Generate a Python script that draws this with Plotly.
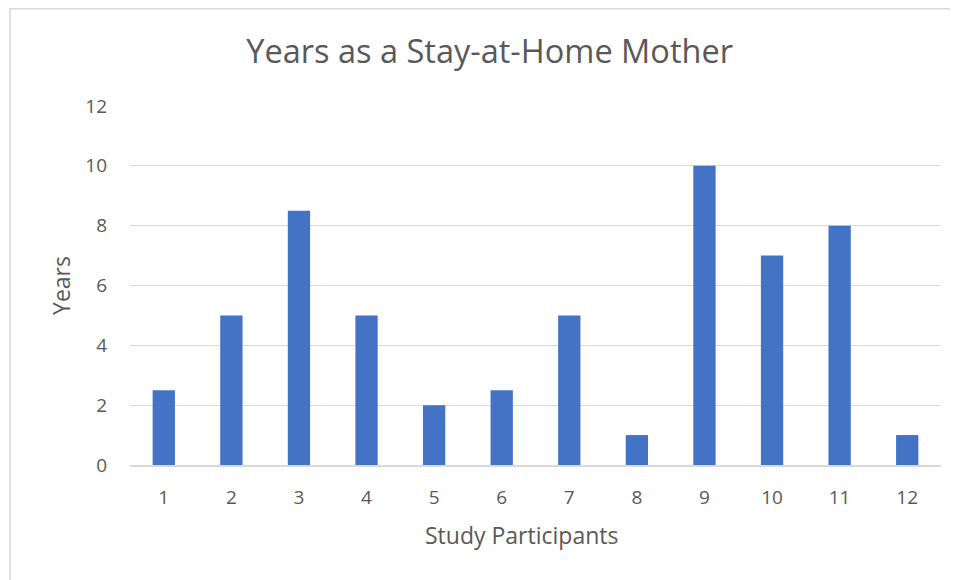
import plotly.graph_objects as go

# data
participants = ["1", "2", "3", "4", "5", "6", "7", "8", "9", "10", "11", "12"]
years = [2.5, 5, 8.5, 5, 2, 2.5, 5, 1, 10, 7, 8, 1]

font_family = "Open Sans, Noto Sans, sans-serif"
grey_text = "#595959"

fig = go.Figure(go.Bar(
    x=participants,
    y=years,
    marker=dict(color="#4472c4", line=dict(width=0)),
))

# page body adds an 8px offset, so the figure is 950x572
# plot area spans x 122..933 px, y 98..457 px in figure coords
fig.update_layout(
    width=950,
    height=572,
    margin=dict(l=122, r=17, t=98, b=115),
    paper_bgcolor="white",
    plot_bgcolor="white",
    bargap=0.67,
    showlegend=False,
    font=dict(family=font_family, color=grey_text),
    title=dict(
        text="Years as a Stay-at-Home Mother",
        font=dict(size=32.5, color=grey_text),
        x=0.507, xanchor="center",
        y=0.924, yanchor="middle",
    ),
    xaxis=dict(
        type="category",
        showgrid=False,
        showline=True,
        linecolor="#d9d9d9",
        linewidth=1.5,
        ticks="",
        tickfont=dict(size=19, color=grey_text),
        ticklabelstandoff=14,
    ),
    yaxis=dict(
        range=[0, 12],
        dtick=2,
        showgrid=True,
        gridcolor="#d9d9d9",
        gridwidth=1.3,
        zeroline=False,
        showline=False,
        ticks="",
        tickfont=dict(size=19, color=grey_text),
        ticklabelstandoff=22,
        title=dict(text="Years",
                   font=dict(size=23, color=grey_text), standoff=8),
    ),
)

# x-axis title sits a little left of the plot centre in the reference
fig.add_annotation(
    text="Study Participants",
    xref="paper", yref="paper",
    x=0.483, y=-0.195,
    xanchor="center", yanchor="middle",
    showarrow=False,
    font=dict(size=23, color=grey_text),
)

# light frame around the chart, as in the reference (left/top edges visible)
fig.add_shape(
    type="rect", xref="paper", yref="paper",
    x0=-0.148, x1=1.1, y0=-0.5, y1=1.271,
    line=dict(color="#d9d9d9", width=1.5),
    fillcolor="rgba(0,0,0,0)",
    layer="below",
)

fig.write_html("out.html")
